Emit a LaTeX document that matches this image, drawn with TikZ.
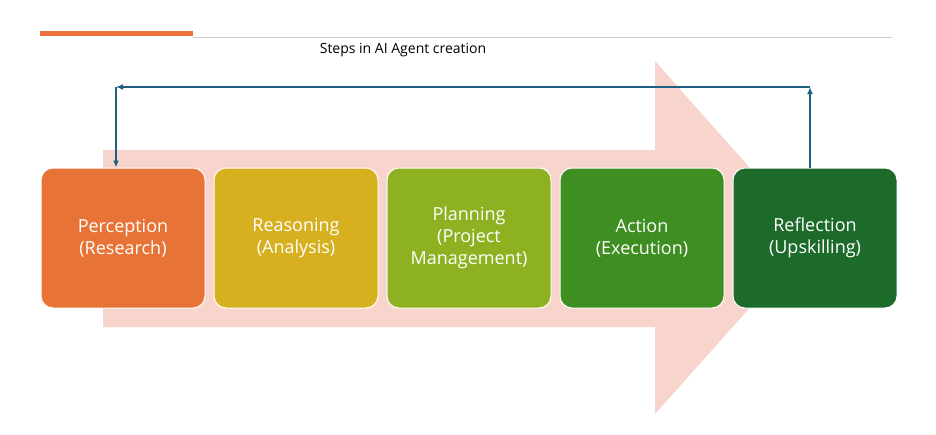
\documentclass[tikz,border=0pt]{standalone}
\usepackage{fontspec}
\setmainfont{Open Sans}
\usetikzlibrary{positioning,arrows.meta}
\definecolor{arrowpink}{HTML}{F8D5CC}
\definecolor{linkblue}{HTML}{1F5F82}
\definecolor{topbar}{HTML}{E9733A}
\definecolor{perc}{HTML}{E87336}
\definecolor{reas}{HTML}{D6B01E}
\definecolor{plan}{HTML}{8DB121}
\definecolor{act}{HTML}{3F8E22}
\definecolor{refl}{HTML}{1D6B2A}
\begin{document}
\begin{tikzpicture}[x=1pt,y=-1pt,node distance=8pt,
		stepbox/.style={rectangle, rounded corners=12pt, draw=white, line width=1pt,
			minimum width=164pt, minimum height=140pt, inner sep=4pt,
			text=white, font=\fontsize{18}{22}\selectfont, align=center},
		loop/.style={linkblue, line width=1.8pt, -{Latex[length=7pt,width=6pt]}}
	]
	\useasboundingbox (0,0) rectangle (936,434);
	
	% header
	\draw[gray!40, line width=1pt] (193,37) -- (892,37);
	\fill[topbar] (40,31) rectangle (193,36);
	\node (title) at (403,50) {\fontsize{14}{16}\selectfont Steps in AI Agent creation};
	
	% big background arrow
	\fill[arrowpink] (103,150) -- (655,150) -- (655,61) -- (812,238) -- (655,414) -- (655,327) -- (103,327) -- cycle;
	
	\node[stepbox, fill=perc] (s_1) at (123,238) {Perception\\(Research)};
	\node[stepbox, fill=reas] (s_2) [right=of s_1] {Reasoning\\(Analysis)};
	\node[stepbox, fill=plan] (s_3) [right=of s_2] {Planning\\(Project\\Management)};
	\node[stepbox, fill=act] (s_4) [right=of s_3] {Action\\(Execution)};
	\node[stepbox, fill=refl] (s_5) [right=of s_4] {Reflection\\(Upskilling)};
	
	\coordinate (c_r) at ([xshift=-5pt]s_5.north |- 0,87);
	\coordinate (c_l) at (116,87);
	
	\draw[loop] ([xshift=-5pt]s_5.north) -- (c_r);
	\draw[loop] (c_r) -- (c_l);
	\draw[loop] (c_l) -- (c_l |- s_1.north);
\end{tikzpicture}
\end{document}
